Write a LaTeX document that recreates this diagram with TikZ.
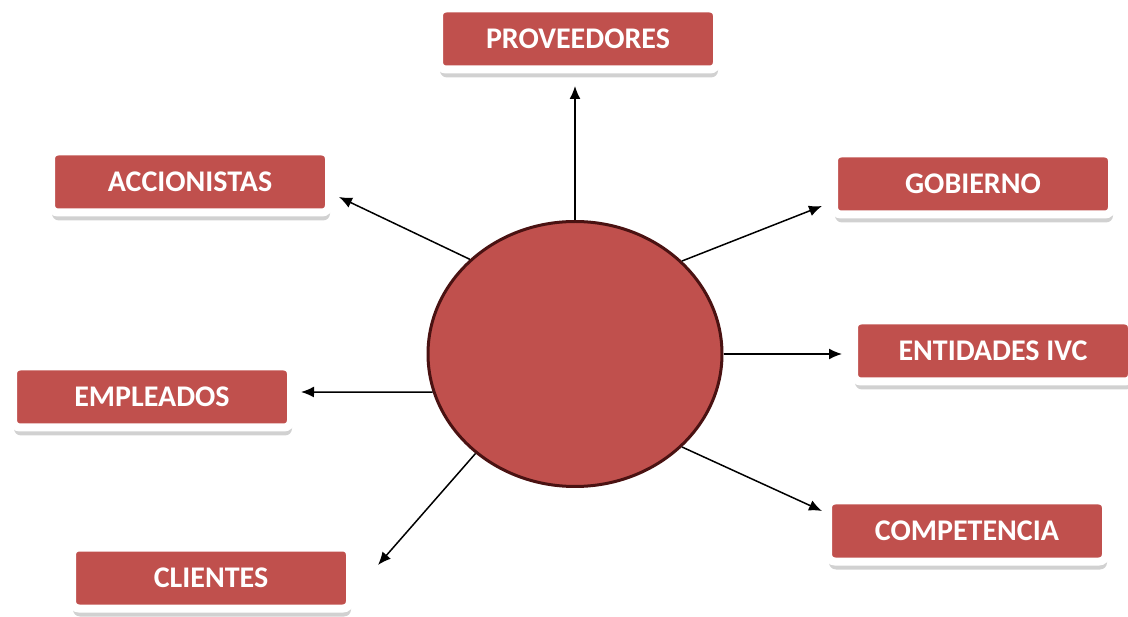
\documentclass[tikz,border=0pt]{standalone}
\usepackage{fontspec}
\setmainfont{Carlito}
\usetikzlibrary{shadows,shapes.geometric,arrows.meta}

\definecolor{boxred}{HTML}{C0504D}
\definecolor{rimred}{HTML}{4A1212}

\tikzstyle{party}=[rectangle,rounded corners=7pt,fill=boxred,draw=white,line width=8pt,minimum width=278pt,minimum height=61pt,inner sep=0pt,text=white,font=\bfseries\fontsize{30}{35}\selectfont,drop shadow={shadow xshift=1pt,shadow yshift=-8pt,fill=black,opacity=0.18}]
\tikzstyle{hubstyle}=[ellipse,fill=boxred,draw=rimred,line width=3pt,minimum width=294pt,minimum height=265pt,inner sep=0pt]
\tikzstyle{link}=[-{Latex[length=13pt,width=11pt]},line width=1.5pt]

\begin{document}
\begin{tikzpicture}[x=1pt,y=-1pt]
	\useasboundingbox (0,0) rectangle (1128,617);

	% Centre
	\node[hubstyle] (hub) at (575,354) {};

	% Boxes
	\node[party] (prov) at (578,39) {PROVEEDORES};
	\node[party] (acc) at (190,182) {ACCIONISTAS};
	\node[party] (gob) at (973,184) {GOBIERNO};
	\node[party] (ivc) at (993,351) {ENTIDADES IVC};
	\node[party] (emp) at (152,397) {EMPLEADOS};
	\node[party] (cli) at (211,578) {CLIENTES};
	\node[party] (comp) at (967,531) {COMPETENCIA};

	% Tips
	\coordinate (tprov) at (575,86);
	\coordinate (tacc) at (339,197);
	\coordinate (tgob) at (822,206);
	\coordinate (tivc) at (842,354);
	\coordinate (temp) at (301,392);
	\coordinate (tcli) at (378,565);
	\coordinate (tcomp) at (822,511);

	% Arrows
	\draw[link] (hub.90) -- (tprov);
	\draw[link] (hub.138) -- (tacc);
	\draw[link] (hub.41) -- (tgob);
	\draw[link] (hub.0) -- (tivc);
	\draw[link] (hub.195) -- (temp);
	\draw[link] (hub.225) -- (tcli);
	\draw[link] (hub.-41) -- (tcomp);
\end{tikzpicture}
\end{document}
